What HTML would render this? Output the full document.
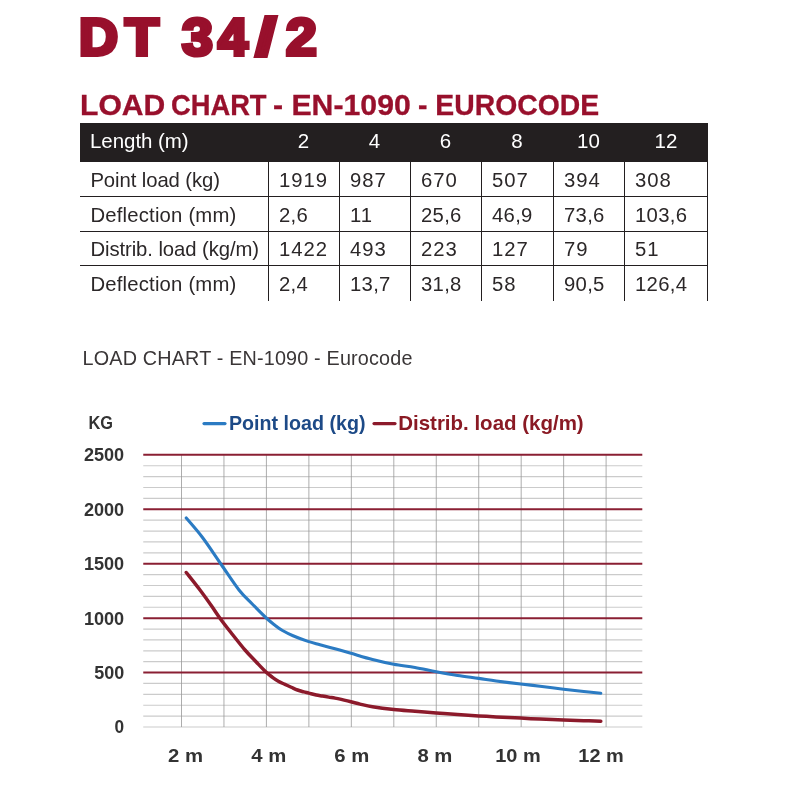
<!DOCTYPE html>
<html lang="en">
<head>
<meta charset="utf-8">
<title>DT 34/2 Load Chart</title>
<style>
html,body{margin:0;padding:0;background:#fff;}
body{width:800px;height:800px;position:relative;overflow:hidden;font-family:"Liberation Sans",sans-serif;}
#title{position:absolute;left:0;top:0;margin:0;font-size:51px;line-height:60px;font-weight:bold;color:#98102c;-webkit-text-stroke:4px #98102c;white-space:nowrap;}
#title span{position:absolute;top:8px;display:block;transform-origin:0 0;}
/*TITLECSS*/
#title .t0{left:79.30px;transform:scaleX(1.0595);}
#title .t1{left:125.43px;transform:scaleX(1.0839);}
#title .t2{left:182.09px;transform:scaleX(1.0860);}
#title .t3{left:218.36px;transform:scaleX(1.0502);}
#title .t4{left:256.45px;transform:scaleX(1.3981);}
#title .t5{left:286.15px;transform:scaleX(1.0813);}
/*ENDTITLE*/
#sub{position:absolute;left:0;top:89.5px;margin:0;font-size:29.6px;line-height:30px;font-weight:bold;color:#98102c;-webkit-text-stroke:0.3px #98102c;white-space:nowrap;}
#sub span{position:absolute;top:0;display:block;transform-origin:0 0;}
/*SUBCSS*/
#sub .w0{left:79.97px;transform:scaleX(1.0166);}
#sub .w1{left:170.69px;transform:scaleX(0.9226);}
#sub .w2{left:272.61px;transform:scaleX(1.0213);}
#sub .w3{left:417.92px;transform:scaleX(0.9583);}
/*ENDSUB*/
table{position:absolute;left:80px;top:123px;width:628px;border-collapse:separate;border-spacing:0;table-layout:fixed;font-size:20.3px;color:#2b2728;letter-spacing:0.03px;}
th,td{padding:0 0 0 10px;text-align:left;font-weight:normal;box-sizing:border-box;white-space:nowrap;overflow:visible;}
thead th{background:#231f20;color:#fff;height:39px;text-align:center;padding:0 0 3px 0;font-size:20.5px;letter-spacing:0;}
thead th:first-child{text-align:left;padding-left:10px;letter-spacing:-0.05px;}
tbody td{height:35px;padding-top:2px;border-left:1px solid #231f20;border-top:1px solid #231f20;}
tbody td:first-child{border-left:none;padding-left:10.4px;letter-spacing:-0.08px;}
tbody td+td{letter-spacing:1px;}
tbody td.d{letter-spacing:0.2px;}
tbody td.n{letter-spacing:0.3px;}
tbody td:last-child{border-right:1px solid #231f20;}
tbody tr:first-child td{border-top:none;height:34px;}
tbody tr:nth-child(3) td{height:34px;}
tbody tr:nth-child(4) td{height:36px;padding-bottom:1px;}
#cap{position:absolute;left:82.6px;top:346px;margin:0;font-size:19.8px;line-height:24px;color:#3a3637;white-space:nowrap;letter-spacing:0.17px;}
#chart{position:absolute;left:0;top:380px;}
</style>
</head>
<body>
<h1 id="title"><span class="t0">D</span><span class="t1">T</span> <span class="t2">3</span><span class="t3">4</span><span class="t4">/</span><span class="t5">2</span></h1>
<h2 id="sub"><span class="w0">LOAD</span> <span class="w1">CHART</span> <span class="w2">- EN-1090</span> <span class="w3">- EUROCODE</span></h2>
<table>
<colgroup><col style="width:188px"><col style="width:71px"><col style="width:71px"><col style="width:71px"><col style="width:72px"><col style="width:71px"><col style="width:84px"></colgroup>
<thead><tr><th>Length (m)</th><th>2</th><th>4</th><th>6</th><th>8</th><th>10</th><th>12</th></tr></thead>
<tbody>
<tr><td>Point load (kg)</td><td>1919</td><td>987</td><td>670</td><td>507</td><td>394</td><td>308</td></tr>
<tr><td class="d">Deflection (mm)</td><td class="n">2,6</td><td>11</td><td class="n">25,6</td><td class="n">46,9</td><td class="n">73,6</td><td class="n">103,6</td></tr>
<tr><td>Distrib. load (kg/m)</td><td>1422</td><td>493</td><td>223</td><td>127</td><td>79</td><td>51</td></tr>
<tr><td class="d">Deflection (mm)</td><td class="n">2,4</td><td class="n">13,7</td><td class="n">31,8</td><td>58</td><td class="n">90,5</td><td class="n">126,4</td></tr>
</tbody>
</table>
<p id="cap">LOAD CHART - EN-1090 - Eurocode</p>
<svg id="chart" width="800" height="420" viewBox="0 380 800 420" font-family="Liberation Sans, sans-serif">
<line x1="143.25" y1="465.74" x2="642.3" y2="465.74" stroke="#cbcbcb" stroke-width="1.2"/>
<line x1="143.25" y1="476.62" x2="642.3" y2="476.62" stroke="#cbcbcb" stroke-width="1.2"/>
<line x1="143.25" y1="487.51" x2="642.3" y2="487.51" stroke="#cbcbcb" stroke-width="1.2"/>
<line x1="143.25" y1="498.39" x2="642.3" y2="498.39" stroke="#cbcbcb" stroke-width="1.2"/>
<line x1="143.25" y1="520.17" x2="642.3" y2="520.17" stroke="#cbcbcb" stroke-width="1.2"/>
<line x1="143.25" y1="531.05" x2="642.3" y2="531.05" stroke="#cbcbcb" stroke-width="1.2"/>
<line x1="143.25" y1="541.94" x2="642.3" y2="541.94" stroke="#cbcbcb" stroke-width="1.2"/>
<line x1="143.25" y1="552.82" x2="642.3" y2="552.82" stroke="#cbcbcb" stroke-width="1.2"/>
<line x1="143.25" y1="574.60" x2="642.3" y2="574.60" stroke="#cbcbcb" stroke-width="1.2"/>
<line x1="143.25" y1="585.48" x2="642.3" y2="585.48" stroke="#cbcbcb" stroke-width="1.2"/>
<line x1="143.25" y1="596.37" x2="642.3" y2="596.37" stroke="#cbcbcb" stroke-width="1.2"/>
<line x1="143.25" y1="607.25" x2="642.3" y2="607.25" stroke="#cbcbcb" stroke-width="1.2"/>
<line x1="143.25" y1="629.03" x2="642.3" y2="629.03" stroke="#cbcbcb" stroke-width="1.2"/>
<line x1="143.25" y1="639.91" x2="642.3" y2="639.91" stroke="#cbcbcb" stroke-width="1.2"/>
<line x1="143.25" y1="650.80" x2="642.3" y2="650.80" stroke="#cbcbcb" stroke-width="1.2"/>
<line x1="143.25" y1="661.68" x2="642.3" y2="661.68" stroke="#cbcbcb" stroke-width="1.2"/>
<line x1="143.25" y1="683.46" x2="642.3" y2="683.46" stroke="#cbcbcb" stroke-width="1.2"/>
<line x1="143.25" y1="694.34" x2="642.3" y2="694.34" stroke="#cbcbcb" stroke-width="1.2"/>
<line x1="143.25" y1="705.23" x2="642.3" y2="705.23" stroke="#cbcbcb" stroke-width="1.2"/>
<line x1="143.25" y1="716.11" x2="642.3" y2="716.11" stroke="#cbcbcb" stroke-width="1.2"/>
<line x1="143.25" y1="727.00" x2="642.3" y2="727.00" stroke="#cbcbcb" stroke-width="1.2"/>
<line x1="181.50" y1="454.85" x2="181.50" y2="727.0" stroke="#989898" stroke-width="0.8"/>
<line x1="223.96" y1="454.85" x2="223.96" y2="727.0" stroke="#989898" stroke-width="0.8"/>
<line x1="266.42" y1="454.85" x2="266.42" y2="727.0" stroke="#989898" stroke-width="0.8"/>
<line x1="308.88" y1="454.85" x2="308.88" y2="727.0" stroke="#989898" stroke-width="0.8"/>
<line x1="351.34" y1="454.85" x2="351.34" y2="727.0" stroke="#989898" stroke-width="0.8"/>
<line x1="393.80" y1="454.85" x2="393.80" y2="727.0" stroke="#989898" stroke-width="0.8"/>
<line x1="436.26" y1="454.85" x2="436.26" y2="727.0" stroke="#989898" stroke-width="0.8"/>
<line x1="478.72" y1="454.85" x2="478.72" y2="727.0" stroke="#989898" stroke-width="0.8"/>
<line x1="521.18" y1="454.85" x2="521.18" y2="727.0" stroke="#989898" stroke-width="0.8"/>
<line x1="563.64" y1="454.85" x2="563.64" y2="727.0" stroke="#989898" stroke-width="0.8"/>
<line x1="606.10" y1="454.85" x2="606.10" y2="727.0" stroke="#989898" stroke-width="0.8"/>
<line x1="143.25" y1="454.85" x2="642.3" y2="454.85" stroke="#8a1f33" stroke-width="2"/>
<line x1="143.25" y1="509.28" x2="642.3" y2="509.28" stroke="#8a1f33" stroke-width="2"/>
<line x1="143.25" y1="563.71" x2="642.3" y2="563.71" stroke="#8a1f33" stroke-width="2"/>
<line x1="143.25" y1="618.14" x2="642.3" y2="618.14" stroke="#8a1f33" stroke-width="2"/>
<line x1="143.25" y1="672.57" x2="642.3" y2="672.57" stroke="#8a1f33" stroke-width="2"/>
<path d="M186.25,518.00 C188.96,521.25 196.67,529.75 202.50,537.50 C208.33,545.25 215.17,555.75 221.25,564.50 C227.33,573.25 233.79,583.38 239.00,590.00 C244.21,596.62 248.00,599.62 252.50,604.25 C257.00,608.88 262.25,614.25 266.00,617.75 C269.75,621.25 272.25,623.12 275.00,625.25 C277.75,627.38 279.50,628.75 282.50,630.50 C285.50,632.25 288.75,633.93 293.00,635.75 C297.25,637.57 303.50,639.90 308.00,641.40 C312.50,642.90 315.50,643.52 320.00,644.75 C324.50,645.98 330.00,647.42 335.00,648.80 C340.00,650.17 343.75,651.22 350.00,653.00 C356.25,654.78 365.21,657.62 372.50,659.50 C379.79,661.38 386.67,662.92 393.75,664.25 C400.83,665.58 407.92,666.25 415.00,667.50 C422.08,668.75 429.17,670.42 436.25,671.75 C443.33,673.08 450.42,674.39 457.50,675.50 C464.58,676.61 472.29,677.48 478.75,678.40 C485.21,679.32 489.25,680.07 496.25,681.00 C503.25,681.93 513.46,683.12 520.75,684.00 C528.04,684.88 532.86,685.38 540.00,686.25 C547.14,687.12 556.31,688.33 563.60,689.20 C570.89,690.08 577.55,690.83 583.75,691.50 C589.95,692.17 597.96,692.96 600.80,693.25" fill="none" stroke="#2b7bc3" stroke-width="3.1" stroke-linecap="round" stroke-linejoin="round"/>
<path d="M186.25,572.50 C188.54,575.42 195.83,584.50 200.00,590.00 C204.17,595.50 207.71,600.50 211.25,605.50 C214.79,610.50 217.71,615.17 221.25,620.00 C224.79,624.83 228.54,629.50 232.50,634.50 C236.46,639.50 241.04,645.42 245.00,650.00 C248.96,654.58 252.71,658.28 256.25,662.00 C259.79,665.72 263.54,669.75 266.25,672.30 C268.96,674.85 270.42,675.77 272.50,677.30 C274.58,678.83 276.67,680.32 278.75,681.50 C280.83,682.68 282.92,683.44 285.00,684.40 C287.08,685.36 289.17,686.32 291.25,687.25 C293.33,688.18 295.42,689.23 297.50,690.00 C299.58,690.77 301.88,691.38 303.75,691.90 C305.62,692.42 306.67,692.58 308.75,693.10 C310.83,693.62 313.96,694.52 316.25,695.00 C318.54,695.48 320.42,695.65 322.50,696.00 C324.58,696.35 326.67,696.75 328.75,697.10 C330.83,697.45 332.92,697.72 335.00,698.10 C337.08,698.48 339.17,698.93 341.25,699.40 C343.33,699.87 345.42,700.38 347.50,700.90 C349.58,701.42 351.67,701.97 353.75,702.50 C355.83,703.03 356.88,703.39 360.00,704.10 C363.12,704.81 366.88,705.85 372.50,706.75 C378.12,707.65 386.67,708.75 393.75,709.50 C400.83,710.25 407.92,710.67 415.00,711.25 C422.08,711.83 429.17,712.46 436.25,713.00 C443.33,713.54 450.42,714.02 457.50,714.50 C464.58,714.98 472.29,715.50 478.75,715.90 C485.21,716.30 489.25,716.53 496.25,716.90 C503.25,717.27 513.46,717.73 520.75,718.10 C528.04,718.47 532.86,718.78 540.00,719.10 C547.14,719.42 556.31,719.73 563.60,720.00 C570.89,720.27 577.55,720.49 583.75,720.70 C589.95,720.91 597.96,721.16 600.80,721.25" fill="none" stroke="#8c1a2b" stroke-width="3.5" stroke-linecap="round" stroke-linejoin="round"/>
<text x="83.90" y="461.25" font-weight="bold" font-size="18" fill="#333333" textLength="40.3" lengthAdjust="spacingAndGlyphs">2500</text>
<text x="83.90" y="515.68" font-weight="bold" font-size="18" fill="#333333" textLength="40.3" lengthAdjust="spacingAndGlyphs">2000</text>
<text x="83.90" y="570.11" font-weight="bold" font-size="18" fill="#333333" textLength="40.3" lengthAdjust="spacingAndGlyphs">1500</text>
<text x="83.90" y="624.54" font-weight="bold" font-size="18" fill="#333333" textLength="40.3" lengthAdjust="spacingAndGlyphs">1000</text>
<text x="94.20" y="678.97" font-weight="bold" font-size="18" fill="#333333" textLength="30" lengthAdjust="spacingAndGlyphs">500</text>
<text x="114.60" y="733.40" font-weight="bold" font-size="18" fill="#333333" textLength="9.6" lengthAdjust="spacingAndGlyphs">0</text>
<text x="88.5" y="428.6" font-weight="bold" font-size="18" fill="#333333" textLength="24.5" lengthAdjust="spacingAndGlyphs">KG</text>
<text x="168.10" y="761.6" font-weight="bold" font-size="18.7" fill="#333333" textLength="35" lengthAdjust="spacingAndGlyphs">2 m</text>
<text x="251.20" y="761.6" font-weight="bold" font-size="18.7" fill="#333333" textLength="35" lengthAdjust="spacingAndGlyphs">4 m</text>
<text x="334.30" y="761.6" font-weight="bold" font-size="18.7" fill="#333333" textLength="35" lengthAdjust="spacingAndGlyphs">6 m</text>
<text x="417.40" y="761.6" font-weight="bold" font-size="18.7" fill="#333333" textLength="35" lengthAdjust="spacingAndGlyphs">8 m</text>
<text x="495.25" y="761.6" font-weight="bold" font-size="18.7" fill="#333333" textLength="45.5" lengthAdjust="spacingAndGlyphs">10 m</text>
<text x="578.35" y="761.6" font-weight="bold" font-size="18.7" fill="#333333" textLength="45.5" lengthAdjust="spacingAndGlyphs">12 m</text>
<line x1="204" y1="423.6" x2="225" y2="423.6" stroke="#2b7bc3" stroke-width="3.2" stroke-linecap="round"/>
<text x="229" y="429.5" font-weight="bold" font-size="19.3" fill="#1d4a87" textLength="136.5" lengthAdjust="spacingAndGlyphs">Point load (kg)</text>
<line x1="374" y1="423.6" x2="395" y2="423.6" stroke="#8c1a2b" stroke-width="3.2" stroke-linecap="round"/>
<text x="398.2" y="429.5" font-weight="bold" font-size="19.3" fill="#8a1a24" textLength="185.5" lengthAdjust="spacingAndGlyphs">Distrib. load (kg/m)</text>
</svg>
</body>
</html>
